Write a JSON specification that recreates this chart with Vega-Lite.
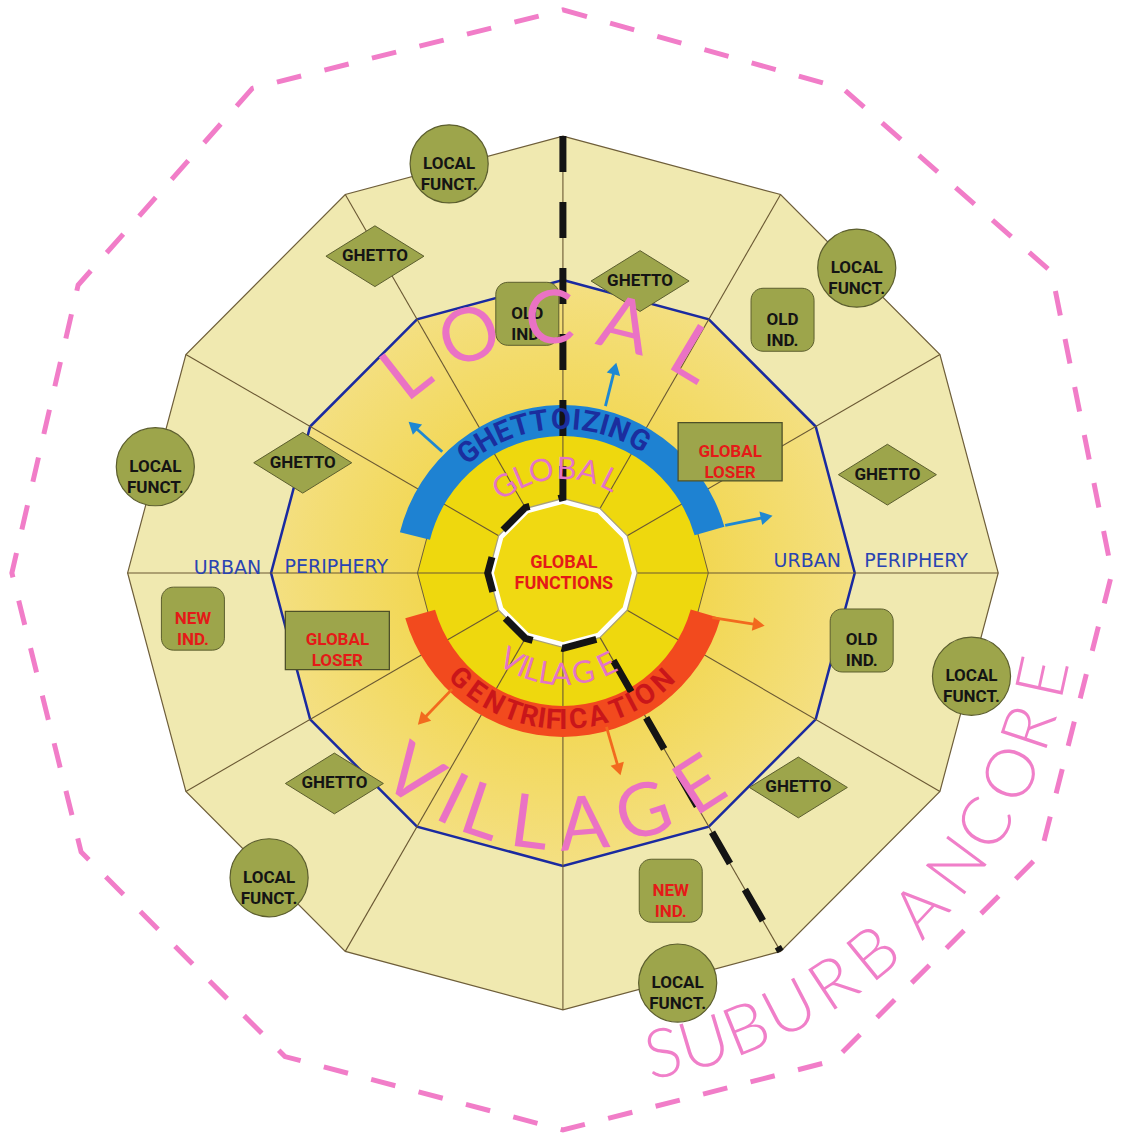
{
  "$schema": "https://vega.github.io/schema/vega-lite/v6.json",
  "width": 1122,
  "height": 1140,
  "autosize": {"type": "fit", "contains": "padding"},
  "padding": 0,
  "background": "#ffffff",
  "config": {"view": {"stroke": null}, "axis": {"disable": true}},
  "datasets": {
    "pink": [{"i":0,"x":0,"y":567},{"i":1,"x":283,"y":488},{"i":2,"x":494,"y":303},{"i":3,"x":555,"y":0},{"i":4,"x":483,"y":-283},{"i":5,"x":274,"y":-491},{"i":6,"x":0,"y":-561},{"i":7,"x":-281,"y":-487},{"i":8,"x":-487,"y":-281},{"i":9,"x":-557,"y":0},{"i":10,"x":-490,"y":290},{"i":11,"x":-314,"y":488}],
    "outer": [{"i":0,"x":0,"y":440},{"i":1,"x":220,"y":381.1},{"i":2,"x":381.1,"y":220},{"i":3,"x":440,"y":0},{"i":4,"x":381.1,"y":-220},{"i":5,"x":220,"y":-381.1},{"i":6,"x":0,"y":-440},{"i":7,"x":-220,"y":-381.1},{"i":8,"x":-381.1,"y":-220},{"i":9,"x":-440,"y":0},{"i":10,"x":-381.1,"y":220},{"i":11,"x":-220,"y":381.1}],
    "mid": [{"i":0,"x":0,"y":295},{"i":1,"x":147.5,"y":255.5},{"i":2,"x":255.5,"y":147.5},{"i":3,"x":295,"y":0},{"i":4,"x":255.5,"y":-147.5},{"i":5,"x":147.5,"y":-255.5},{"i":6,"x":0,"y":-295},{"i":7,"x":-147.5,"y":-255.5},{"i":8,"x":-255.5,"y":-147.5},{"i":9,"x":-295,"y":0},{"i":10,"x":-255.5,"y":147.5},{"i":11,"x":-147.5,"y":255.5}],
    "inner": [{"i":0,"x":0,"y":147},{"i":1,"x":73.5,"y":127.3},{"i":2,"x":127.3,"y":73.5},{"i":3,"x":147,"y":0},{"i":4,"x":127.3,"y":-73.5},{"i":5,"x":73.5,"y":-127.3},{"i":6,"x":0,"y":-147},{"i":7,"x":-73.5,"y":-127.3},{"i":8,"x":-127.3,"y":-73.5},{"i":9,"x":-147,"y":0},{"i":10,"x":-127.3,"y":73.5},{"i":11,"x":-73.5,"y":127.3}],
    "core": [{"i":0,"x":0,"y":72},{"i":1,"x":36,"y":62.4},{"i":2,"x":62.4,"y":36},{"i":3,"x":72,"y":0},{"i":4,"x":62.4,"y":-36},{"i":5,"x":36,"y":-62.4},{"i":6,"x":0,"y":-72},{"i":7,"x":-36,"y":-62.4},{"i":8,"x":-62.4,"y":-36},{"i":9,"x":-72,"y":0},{"i":10,"x":-62.4,"y":36},{"i":11,"x":-36,"y":62.4}],
    "spokes": [{"x":0,"y":74,"x2":0,"y2":440},{"x":37,"y":64.1,"x2":220,"y2":381.1},{"x":64.1,"y":37,"x2":381.1,"y2":220},{"x":74,"y":0,"x2":440,"y2":0},{"x":64.1,"y":-37,"x2":381.1,"y2":-220},{"x":37,"y":-64.1,"x2":220,"y2":-381.1},{"x":0,"y":-74,"x2":0,"y2":-440},{"x":-37,"y":-64.1,"x2":-220,"y2":-381.1},{"x":-64.1,"y":-37,"x2":-381.1,"y2":-220},{"x":-74,"y":0,"x2":-440,"y2":0},{"x":-64.1,"y":37,"x2":-381.1,"y2":220},{"x":-37,"y":64.1,"x2":-220,"y2":381.1}],
    "blackpath": [{"i":0,"x":0,"y":440},{"i":1,"x":0,"y":76},{"i":2,"x":-38,"y":65.8},{"i":3,"x":-65.8,"y":38},{"i":4,"x":-76,"y":0},{"i":5,"x":-65.8,"y":-38},{"i":6,"x":-38,"y":-65.8},{"i":7,"x":0,"y":-76},{"i":8,"x":38,"y":-65.8},{"i":9,"x":220,"y":-381.1}],
    "band_blue": [{"x":0,"y":0,"t1":-1.3265,"t2":1.2915}],
    "band_red": [{"x":0,"y":0,"t1":1.8500,"t2":4.4331}],
    "shafts": [{"kind":"g","x":-122,"y":122,"x2":-150,"y2":147},{"kind":"g","x":43,"y":168,"x2":52,"y2":204},{"kind":"g","x":164,"y":48,"x2":204,"y2":56},{"kind":"r","x":151,"y":-45,"x2":196,"y2":-52},{"kind":"r","x":44,"y":-155,"x2":56,"y2":-196},{"kind":"r","x":-112,"y":-117,"x2":-141,"y2":-147}],
    "heads": [{"kind":"g","x":-150,"y":147,"dir":312},{"kind":"g","x":52,"y":204,"dir":14},{"kind":"g","x":204,"y":56,"dir":78},{"kind":"r","x":196,"y":-52,"dir":99},{"kind":"r","x":56,"y":-196,"dir":164},{"kind":"r","x":-141,"y":-147,"dir":224}],
    "local": [{"x":-115,"y":412,"label":"LOCAL|FUNCT."},{"x":297,"y":307,"label":"LOCAL|FUNCT."},{"x":-412,"y":107,"label":"LOCAL|FUNCT."},{"x":413,"y":-104,"label":"LOCAL|FUNCT."},{"x":-297,"y":-307,"label":"LOCAL|FUNCT."},{"x":116,"y":-413,"label":"LOCAL|FUNCT."}],
    "ghetto": [{"x":-190,"y":319,"label":"GHETTO"},{"x":78,"y":294,"label":"GHETTO"},{"x":-263,"y":111,"label":"GHETTO"},{"x":328,"y":99,"label":"GHETTO"},{"x":-231,"y":-212,"label":"GHETTO"},{"x":238,"y":-216,"label":"GHETTO"}],
    "oldind": [{"x":-36,"y":261,"label":"OLD|IND."},{"x":222,"y":255,"label":"OLD|IND."},{"x":302,"y":-68,"label":"OLD|IND."}],
    "newind": [{"x":-374,"y":-46,"label":"NEW|IND."},{"x":109,"y":-320,"label":"NEW|IND."}],
    "loser": [{"x":169,"y":122,"label":"GLOBAL|LOSER"},{"x":-228,"y":-68,"label":"GLOBAL|LOSER"}],
    "w_ghetto": [{"x":0,"y":0,"c":"G","t":-0.6632,"rot":-38},{"x":0,"y":0,"c":"H","t":-0.5271,"rot":-30.2},{"x":0,"y":0,"c":"E","t":-0.3997,"rot":-22.9},{"x":0,"y":0,"c":"T","t":-0.2793,"rot":-16},{"x":0,"y":0,"c":"T","t":-0.1553,"rot":-8.9},{"x":0,"y":0,"c":"O","t":-0.0140,"rot":-0.8},{"x":0,"y":0,"c":"I","t":0.0890,"rot":5.1},{"x":0,"y":0,"c":"Z","t":0.1833,"rot":10.5},{"x":0,"y":0,"c":"I","t":0.2740,"rot":15.7},{"x":0,"y":0,"c":"N","t":0.3752,"rot":21.5},{"x":0,"y":0,"c":"G","t":0.5236,"rot":30}],
    "w_gentr": [{"x":0,"y":0,"c":"G","t":3.9147,"rot":44.3},{"x":0,"y":0,"c":"E","t":3.7699,"rot":36},{"x":0,"y":0,"c":"N","t":3.6303,"rot":28},{"x":0,"y":0,"c":"T","t":3.4907,"rot":20},{"x":0,"y":0,"c":"R","t":3.3720,"rot":13.2},{"x":0,"y":0,"c":"I","t":3.2847,"rot":8.2},{"x":0,"y":0,"c":"F","t":3.2061,"rot":3.7},{"x":0,"y":0,"c":"I","t":3.1381,"rot":-0.2},{"x":0,"y":0,"c":"C","t":3.0369,"rot":-6},{"x":0,"y":0,"c":"A","t":2.9007,"rot":-13.8},{"x":0,"y":0,"c":"T","t":2.7506,"rot":-22.4},{"x":0,"y":0,"c":"I","t":2.6546,"rot":-27.9},{"x":0,"y":0,"c":"O","t":2.5464,"rot":-34.1},{"x":0,"y":0,"c":"N","t":2.3928,"rot":-42.9}],
    "w_global": [{"x":0,"y":0,"c":"G","t":-0.5934,"rot":-34},{"x":0,"y":0,"c":"L","t":-0.4014,"rot":-23},{"x":0,"y":0,"c":"O","t":-0.2094,"rot":-12},{"x":0,"y":0,"c":"B","t":0.0349,"rot":2},{"x":0,"y":0,"c":"A","t":0.2443,"rot":14},{"x":0,"y":0,"c":"L","t":0.4712,"rot":27}],
    "w_village_s": [{"x":0,"y":0,"c":"V","t":3.6757,"rot":30.6},{"x":0,"y":0,"c":"I","t":3.5413,"rot":22.9},{"x":0,"y":0,"c":"L","t":3.4453,"rot":17.4},{"x":0,"y":0,"c":"L","t":3.3022,"rot":9.2},{"x":0,"y":0,"c":"A","t":3.1590,"rot":1},{"x":0,"y":0,"c":"G","t":2.9391,"rot":-11.6},{"x":0,"y":0,"c":"E","t":2.6948,"rot":-25.6}],
    "w_local": [{"x":0,"y":0,"c":"L","t":-0.6632,"rot":-38},{"x":0,"y":0,"c":"O","t":-0.3752,"rot":-21.5},{"x":0,"y":0,"c":"C","t":-0.0524,"rot":-3},{"x":0,"y":0,"c":"A","t":0.2443,"rot":14},{"x":0,"y":0,"c":"L","t":0.5411,"rot":31}],
    "w_village_b": [{"x":0,"y":0,"c":"V","t":3.7786,"rot":36.5},{"x":0,"y":0,"c":"I","t":3.5937,"rot":25.9},{"x":0,"y":0,"c":"L","t":3.4662,"rot":18.6},{"x":0,"y":0,"c":"L","t":3.2725,"rot":7.5},{"x":0,"y":0,"c":"A","t":3.0595,"rot":-4.7},{"x":0,"y":0,"c":"G","t":2.8170,"rot":-18.6},{"x":0,"y":0,"c":"E","t":2.5691,"rot":-32.8}],
    "w_suburban": [{"x":0,"y":0,"c":"S","t":2.9356,"rot":-11.8},{"x":0,"y":0,"c":"U","t":2.8501,"rot":-16.7},{"x":0,"y":0,"c":"B","t":2.7594,"rot":-21.9},{"x":0,"y":0,"c":"U","t":2.6616,"rot":-27.5},{"x":0,"y":0,"c":"R","t":2.5586,"rot":-33.4},{"x":0,"y":0,"c":"B","t":2.4574,"rot":-39.2},{"x":0,"y":0,"c":"A","t":2.3265,"rot":-46.7},{"x":0,"y":0,"c":"N","t":2.2096,"rot":-53.4},{"x":0,"y":0,"c":"C","t":2.1066,"rot":-59.3},{"x":0,"y":0,"c":"O","t":1.9914,"rot":-65.9},{"x":0,"y":0,"c":"R","t":1.8919,"rot":-71.6},{"x":0,"y":0,"c":"E","t":1.7855,"rot":-77.7}],
    "urban": [{"x":-339,"y":5,"label":"URBAN"},{"x":-229,"y":6,"label":"PERIPHERY"},{"x":247,"y":12,"label":"URBAN"},{"x":357,"y":12,"label":"PERIPHERY"}],
    "gf": [{"x":1,"y":10,"label":"GLOBAL"},{"x":1,"y":-11,"label":"FUNCTIONS"}]
  },
  "encoding": {
    "x": {"field": "x", "type": "quantitative", "scale": {"domain": [-569, 553], "nice": false, "zero": false}, "axis": null},
    "y": {"field": "y", "type": "quantitative", "scale": {"domain": [-565, 575], "nice": false, "zero": false}, "axis": null}
  },
  "layer": [
    {"data": {"name": "pink"}, "mark": {"type": "line", "interpolate": "linear-closed", "stroke": "#F17DC8", "strokeWidth": 5, "strokeDash": [25, 24]}, "encoding": {"order": {"field": "i", "type": "quantitative"}}},
    {"data": {"name": "outer"}, "mark": {"type": "line", "interpolate": "linear-closed", "fill": "#F0E9B0", "stroke": "#6E5E3A", "strokeWidth": 1.2}, "encoding": {"order": {"field": "i", "type": "quantitative"}}},
    {"data": {"name": "mid"}, "mark": {"type": "line", "interpolate": "linear-closed", "fill": {"gradient": "radial", "x1": 0.5, "y1": 0.5, "r1": 0.24, "x2": 0.5, "y2": 0.5, "r2": 0.52, "stops": [{"offset": 0, "color": "#F2D752"}, {"offset": 1, "color": "#F4E086"}]}, "stroke": "#1A2AA0", "strokeWidth": 2.5}, "encoding": {"order": {"field": "i", "type": "quantitative"}}},
    {"data": {"name": "inner"}, "mark": {"type": "line", "interpolate": "linear-closed", "fill": "#EED80E", "stroke": "#6E5E3A", "strokeWidth": 1}, "encoding": {"order": {"field": "i", "type": "quantitative"}}},
    {"data": {"name": "spokes"}, "mark": {"type": "rule", "stroke": "#6A5833", "strokeWidth": 1.1}, "encoding": {"x2": {"field": "x2"}, "y2": {"field": "y2"}}},
    {"data": {"name": "core"}, "mark": {"type": "line", "interpolate": "linear-closed", "stroke": "#A8A07A", "strokeWidth": 7}, "encoding": {"order": {"field": "i", "type": "quantitative"}}},
    {"data": {"name": "core"}, "mark": {"type": "line", "interpolate": "linear-closed", "fill": "#F0D912", "stroke": "#FFFFFF", "strokeWidth": 4.5}, "encoding": {"order": {"field": "i", "type": "quantitative"}}},
    {"data": {"name": "band_blue"}, "mark": {"type": "arc", "outerRadius": 168, "innerRadius": 137, "color": "#1E82D2"},
      "encoding": {"theta": {"field": "t1", "type": "quantitative", "scale": null}, "theta2": {"field": "t2"}}},
    {"data": {"name": "band_red"}, "mark": {"type": "arc", "outerRadius": 164, "innerRadius": 133, "color": "#F24A1E"},
      "encoding": {"theta": {"field": "t1", "type": "quantitative", "scale": null}, "theta2": {"field": "t2"}}},
    {"data": {"name": "shafts"}, "mark": {"type": "rule", "strokeWidth": 2.8},
      "encoding": {"x2": {"field": "x2"}, "y2": {"field": "y2"},
        "color": {"field": "kind", "type": "nominal", "scale": {"domain": ["g", "r"], "range": ["#1E88D2", "#F26A1E"]}, "legend": null}}},
    {"data": {"name": "heads"}, "mark": {"type": "point", "shape": "triangle", "size": 190, "filled": true, "opacity": 1},
      "encoding": {"color": {"field": "kind", "type": "nominal", "scale": {"domain": ["g", "r"], "range": ["#1E88D2", "#F26A1E"]}, "legend": null},
        "angle": {"field": "dir", "type": "quantitative", "scale": null}}},
    {"data": {"name": "local"}, "mark": {"type": "point", "shape": "circle", "size": 6100, "filled": true, "fill": "#9DA54B", "stroke": "#5C5E2E", "strokeWidth": 1.2, "opacity": 1}},
    {"data": {"name": "ghetto"}, "mark": {"type": "point", "shape": "M-1,0L0,-0.62L1,0L0,0.62Z", "size": 9604, "filled": true, "fill": "#9DA54B", "stroke": "#5C5E2E", "strokeWidth": 1, "opacity": 1}},
    {"data": {"name": "oldind"}, "mark": {"type": "point", "shape": "M-0.62,-1H0.62A0.38,0.38 0 0 1 1,-0.62V0.62A0.38,0.38 0 0 1 0.62,1H-0.62A0.38,0.38 0 0 1 -1,0.62V-0.62A0.38,0.38 0 0 1 -0.62,-1Z", "size": 3969, "filled": true, "fill": "#9DA54B", "stroke": "#5C5E2E", "strokeWidth": 1, "opacity": 1}},
    {"data": {"name": "newind"}, "mark": {"type": "point", "shape": "M-0.62,-1H0.62A0.38,0.38 0 0 1 1,-0.62V0.62A0.38,0.38 0 0 1 0.62,1H-0.62A0.38,0.38 0 0 1 -1,0.62V-0.62A0.38,0.38 0 0 1 -0.62,-1Z", "size": 3969, "filled": true, "fill": "#9DA54B", "stroke": "#5C5E2E", "strokeWidth": 1, "opacity": 1}},
    {"data": {"name": "loser"}, "mark": {"type": "point", "shape": "M-1,-0.56L1,-0.56L1,0.56L-1,0.56Z", "size": 10816, "filled": true, "fill": "#9DA54B", "stroke": "#4E5028", "strokeWidth": 1.3, "opacity": 1}},
    {"data": {"name": "local"}, "mark": {"type": "text", "font": "Roboto", "fontSize": 17, "fontWeight": "bold", "color": "#141414", "lineBreak": "|", "lineHeight": 21, "align": "center", "baseline": "middle"}, "encoding": {"text": {"field": "label"}}},
    {"data": {"name": "ghetto"}, "mark": {"type": "text", "font": "Roboto", "fontSize": 17, "fontWeight": "bold", "color": "#141414", "align": "center", "baseline": "middle"}, "encoding": {"text": {"field": "label"}}},
    {"data": {"name": "oldind"}, "mark": {"type": "text", "font": "Roboto", "fontSize": 17, "fontWeight": "bold", "color": "#141414", "lineBreak": "|", "lineHeight": 21, "align": "center", "baseline": "middle"}, "encoding": {"text": {"field": "label"}}},
    {"data": {"name": "newind"}, "mark": {"type": "text", "font": "Roboto", "fontSize": 17, "fontWeight": "bold", "color": "#E41A18", "lineBreak": "|", "lineHeight": 21, "align": "center", "baseline": "middle"}, "encoding": {"text": {"field": "label"}}},
    {"data": {"name": "loser"}, "mark": {"type": "text", "font": "Roboto", "fontSize": 17, "fontWeight": "bold", "color": "#E41A18", "lineBreak": "|", "lineHeight": 21, "align": "center", "baseline": "middle"}, "encoding": {"text": {"field": "label"}}},
    {"data": {"name": "blackpath"}, "mark": {"type": "line", "stroke": "#141414", "strokeWidth": 7, "strokeDash": [36, 30], "strokeCap": "butt", "strokeJoin": "miter"}, "encoding": {"order": {"field": "i", "type": "quantitative"}}},
    {"data": {"name": "w_ghetto"}, "mark": {"type": "text", "radius": 153, "font": "Roboto", "fontSize": 29, "fontWeight": "bold", "color": "#1B2E9E", "align": "center", "baseline": "middle"},
      "encoding": {"theta": {"field": "t", "type": "quantitative", "scale": null}, "angle": {"field": "rot", "type": "quantitative", "scale": null}, "text": {"field": "c"}}},
    {"data": {"name": "w_gentr"}, "mark": {"type": "text", "radius": 148, "font": "Roboto", "fontSize": 28, "fontWeight": "bold", "color": "#C9161A", "align": "center", "baseline": "middle"},
      "encoding": {"theta": {"field": "t", "type": "quantitative", "scale": null}, "angle": {"field": "rot", "type": "quantitative", "scale": null}, "text": {"field": "c"}}},
    {"data": {"name": "w_global"}, "mark": {"type": "text", "radius": 103, "font": "Lato", "fontSize": 31, "color": "#E474C6", "align": "center", "baseline": "middle"},
      "encoding": {"theta": {"field": "t", "type": "quantitative", "scale": null}, "angle": {"field": "rot", "type": "quantitative", "scale": null}, "text": {"field": "c"}}},
    {"data": {"name": "w_village_s"}, "mark": {"type": "text", "radius": 103, "font": "Lato", "fontSize": 31, "color": "#E474C6", "align": "center", "baseline": "middle"},
      "encoding": {"theta": {"field": "t", "type": "quantitative", "scale": null}, "angle": {"field": "rot", "type": "quantitative", "scale": null}, "text": {"field": "c"}}},
    {"data": {"name": "w_local"}, "mark": {"type": "text", "radius": 252, "font": "Lato", "fontSize": 74, "color": "#EA72C4", "align": "center", "baseline": "middle"},
      "encoding": {"theta": {"field": "t", "type": "quantitative", "scale": null}, "angle": {"field": "rot", "type": "quantitative", "scale": null}, "text": {"field": "c"}}},
    {"data": {"name": "w_village_b"}, "mark": {"type": "text", "radius": 255, "font": "Lato", "fontSize": 74, "color": "#EA72C4", "align": "center", "baseline": "middle"},
      "encoding": {"theta": {"field": "t", "type": "quantitative", "scale": null}, "angle": {"field": "rot", "type": "quantitative", "scale": null}, "text": {"field": "c"}}},
    {"data": {"name": "w_suburban"}, "mark": {"type": "text", "radius": 494, "font": "Lato", "fontSize": 68, "fontWeight": 300, "color": "#F07FC9", "align": "center", "baseline": "middle"},
      "encoding": {"theta": {"field": "t", "type": "quantitative", "scale": null}, "angle": {"field": "rot", "type": "quantitative", "scale": null}, "text": {"field": "c"}}},
    {"data": {"name": "urban"}, "mark": {"type": "text", "font": "DejaVu Sans", "fontSize": 19, "color": "#2A44B2", "align": "center", "baseline": "middle"}, "encoding": {"text": {"field": "label"}}},
    {"data": {"name": "gf"}, "mark": {"type": "text", "font": "Roboto", "fontSize": 18, "fontWeight": "bold", "color": "#E41A18", "align": "center", "baseline": "middle"}, "encoding": {"text": {"field": "label"}}}
  ]
}
